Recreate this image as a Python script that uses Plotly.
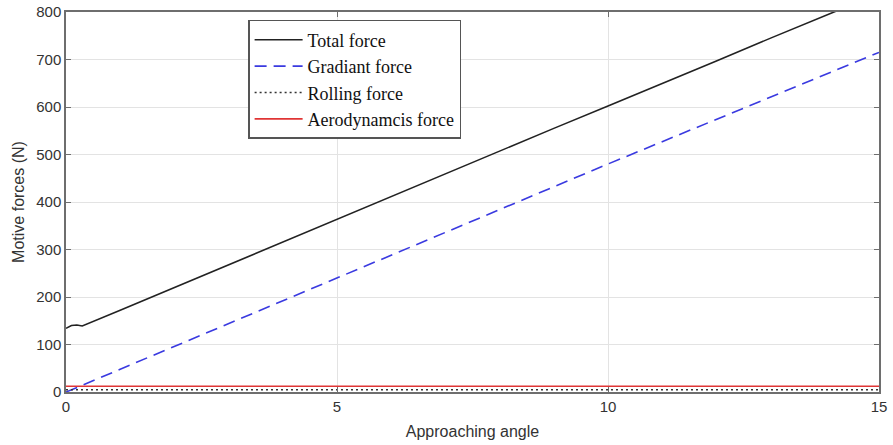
import plotly.graph_objects as go

# Data
angle = [0, 0.1, 0.2, 0.3, 1, 2, 3, 4, 5, 6, 7, 8, 9, 10, 11, 12, 13, 14, 15]
total_force = [134, 140, 141, 139, 172, 220, 268, 316, 363, 411, 459, 507, 555, 602,
               649, 697, 745, 792, 839]
gradient_force = [0, 5, 10, 14, 48, 96, 145, 193, 241, 289, 337, 385, 432, 480,
                  527, 574, 621, 668, 715]
rolling_force = [5] * len(angle)
aero_force = [12] * len(angle)

names = ["Total force", "Gradiant force", "Rolling force", "Aerodynamcis force"]

fig = go.Figure()
fig.add_trace(go.Scatter(x=angle, y=total_force, mode="lines", name=names[0],
                         line=dict(color="#222222", width=1.6)))
fig.add_trace(go.Scatter(x=angle, y=gradient_force, mode="lines", name=names[1],
                         line=dict(color="#3a3ae0", width=1.6, dash="12px,7px")))
fig.add_trace(go.Scatter(x=angle, y=rolling_force, mode="lines", name=names[2],
                         line=dict(color="#333333", width=1.5, dash="2px,3px")))
fig.add_trace(go.Scatter(x=angle, y=aero_force, mode="lines", name=names[3],
                         line=dict(color="#e03535", width=1.6)))

axis_common = dict(
    showgrid=True, gridcolor="#e3e3e3", gridwidth=1,
    showline=True, linecolor="#6e6e6e", linewidth=1.5, mirror="ticks",
    ticks="inside", ticklen=5, tickcolor="#6e6e6e",
    tickfont=dict(family="Liberation Sans, Arial, sans-serif", size=15, color="#333333"),
    zeroline=False, automargin=False, ticklabeloverflow="allow",
)

fig.update_layout(
    width=893, height=445,
    margin=dict(l=66, r=14, t=12, b=53),
    paper_bgcolor="white", plot_bgcolor="white",
    xaxis=dict(range=[0, 15], tickvals=[0, 5, 10, 15],
               title=dict(text="Approaching angle", standoff=12,
                          font=dict(family="Liberation Sans, Arial, sans-serif", size=16, color="#333333")),
               **axis_common),
    yaxis=dict(range=[0, 800], tickvals=[0, 100, 200, 300, 400, 500, 600, 700, 800],
               title=dict(text="Motive forces (N)", standoff=8,
                          font=dict(family="Liberation Sans, Arial, sans-serif", size=16, color="#333333")),
               **axis_common),
    legend=dict(x=0.224, y=0.979, xanchor="left", yanchor="top",
                bgcolor="white", bordercolor="#555555", borderwidth=1.5,
                font=dict(family="Liberation Serif, Times New Roman, serif", size=18, color="#111111"),
                tracegroupgap=0, itemwidth=48),
    showlegend=True,
)

# remove the default 8px page margin so the figure fills the window exactly
fig.write_html("out.html", config={"displayModeBar": False},
               post_script="document.body.style.margin='0';")
